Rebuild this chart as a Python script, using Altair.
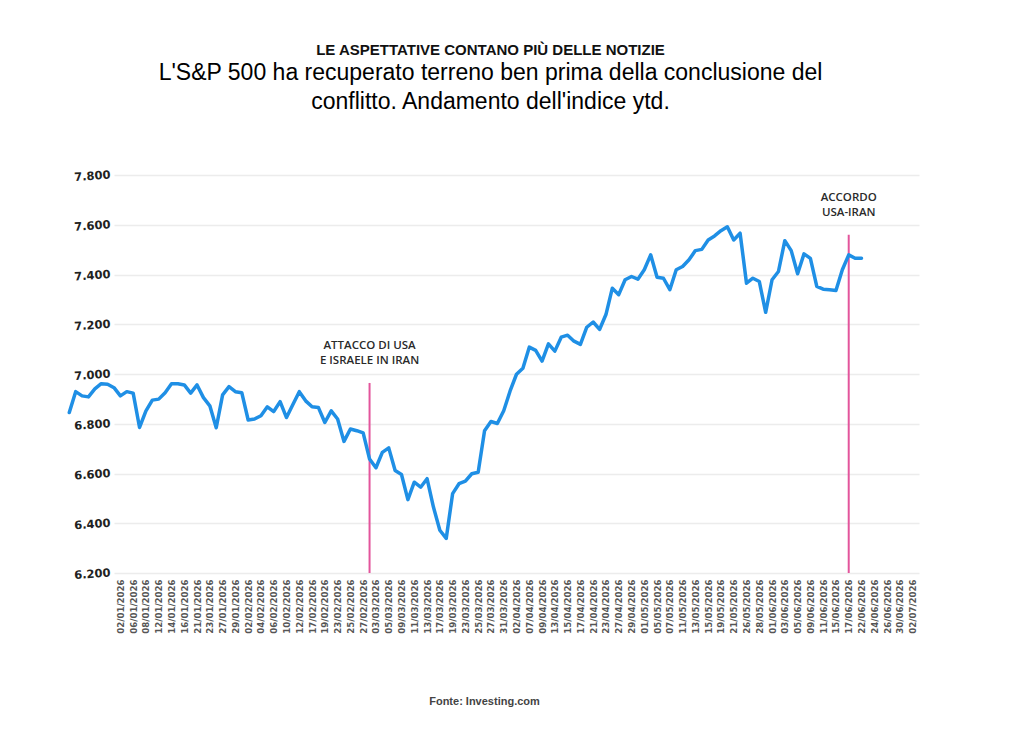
import altair as alt
import pandas as pd

# ---------------- text ----------------
title_text = "LE ASPETTATIVE CONTANO PIÙ DELLE NOTIZIE"
subtitle_lines = [
    "L'S&P 500 ha recuperato terreno ben prima della conclusione del",
    "conflitto. Andamento dell'indice ytd.",
]
source_text = "Fonte: Investing.com"

# ---------------- data ----------------
# x-axis labels (one every second trading day)
date_labels = [
    "02/01/2026", "06/01/2026", "08/01/2026", "12/01/2026", "14/01/2026", "16/01/2026",
    "21/01/2026", "23/01/2026", "27/01/2026", "29/01/2026", "02/02/2026", "04/02/2026",
    "06/02/2026", "10/02/2026", "12/02/2026", "17/02/2026", "19/02/2026", "23/02/2026",
    "25/02/2026", "27/02/2026", "03/03/2026", "05/03/2026", "09/03/2026", "11/03/2026",
    "13/03/2026", "17/03/2026", "19/03/2026", "23/03/2026", "25/03/2026", "27/03/2026",
    "31/03/2026", "02/04/2026", "07/04/2026", "09/04/2026", "13/04/2026", "15/04/2026",
    "17/04/2026", "21/04/2026", "23/04/2026", "27/04/2026", "29/04/2026", "01/05/2026",
    "05/05/2026", "07/05/2026", "11/05/2026", "13/05/2026", "15/05/2026", "19/05/2026",
    "21/05/2026", "26/05/2026", "28/05/2026", "01/06/2026", "03/06/2026", "05/06/2026",
    "09/06/2026", "11/06/2026", "15/06/2026", "17/06/2026", "22/06/2026", "24/06/2026",
    "26/06/2026", "30/06/2026", "02/07/2026",
]

y_ticks = [6200, 6400, 6600, 6800, 7000, 7200, 7400, 7600, 7800]

# S&P 500 daily closes as drawn (125 points)
sp500 = [
    6845, 6929, 6912, 6908, 6940, 6961, 6959, 6945, 6912, 6929,
    6923, 6785, 6852, 6895, 6899, 6925, 6961, 6961, 6956, 6923,
    6956, 6905, 6872, 6784, 6916, 6949, 6929, 6925, 6815, 6819,
    6832, 6868, 6849, 6889, 6825, 6877, 6929, 6892, 6868, 6865,
    6805, 6852, 6819, 6729, 6779, 6772, 6763, 6658, 6623, 6685,
    6703, 6612, 6596, 6495, 6565, 6545, 6579, 6465, 6372, 6339,
    6519, 6559, 6569, 6599, 6605, 6772, 6809, 6801, 6852, 6932,
    6999, 7023, 7108, 7095, 7052, 7121, 7092, 7148, 7156, 7132,
    7119, 7188, 7209, 7179, 7239, 7345, 7319, 7379, 7392, 7381,
    7419, 7479, 7389, 7385, 7339, 7419, 7432, 7459, 7496, 7501,
    7539, 7555, 7576, 7592, 7539, 7566, 7365, 7385, 7372, 7248,
    7379, 7412, 7536, 7496, 7403, 7483, 7465, 7352, 7341, 7339,
    7336, 7419, 7479, 7465, 7465,
]
# the drawn series starts 8 trading-day slots before the first axis label
line_offset = -8

event_pos = [39, 114]
event_top = [6964, 7560]
event_text = ["ATTACCO DI USA\nE ISRAELE IN IRAN", "ACCORDO\nUSA-IRAN"]

# ---------------- tables ----------------
line_df = pd.DataFrame({
    "pos": [i + line_offset for i in range(len(sp500))],
    "value": sp500,
})
ev_df = pd.DataFrame({
    "pos": event_pos,
    "top": event_top,
    "bottom": [y_ticks[0]] * len(event_pos),
    "label": event_text,
})

n_slots = 2 * (len(date_labels) - 1)
x_values = [2 * i for i in range(len(date_labels))]
label_array = "[" + ",".join("'" + d + "'" for d in date_labels) + "]"

x_scale = alt.Scale(domain=[-1, n_slots + 1], nice=False, zero=False)
y_scale = alt.Scale(domain=[y_ticks[0], y_ticks[-1]], nice=False, zero=False)

x_axis = alt.Axis(
    values=x_values,
    tickCount=len(x_values) * 2,
    labelExpr=label_array + "[datum.value / 2]",
    labelAngle=270,
    labelFont="DejaVu Sans",
    labelFontWeight="bold",
    labelFontSize=8.6,
    labelColor="#555555",
    labelPadding=6,
    labelOverlap=False,
    labelBound=False,
    labelFlush=False,
    grid=False,
    ticks=False,
    domain=False,
    title=source_text,
    titleFont="Liberation Sans",
    titleFontWeight="bold",
    titleFontSize=11,
    titleColor="#444444",
    titleX=370,
    titleY=128,
    titleAlign="center",
    titleBaseline="middle",
)
y_axis = alt.Axis(
    values=y_ticks,
    labelExpr="replace(format(datum.value, ',d'), ',', '.')",
    labelFont="DejaVu Sans",
    labelFontWeight="bold",
    labelFontSize=11.5,
    labelColor="#222222",
    labelPadding=4,
    labelAngle=356,
    grid=True,
    gridColor="#ececec",
    gridWidth=1.5,
    ticks=False,
    domain=False,
    title=None,
)

line = alt.Chart(line_df).mark_line(
    color="#1f8fe5", strokeWidth=3.5, strokeJoin="round", strokeCap="round", clip=False
).encode(
    x=alt.X("pos:Q", scale=x_scale, axis=x_axis),
    y=alt.Y("value:Q", scale=y_scale, axis=y_axis),
)

rules = alt.Chart(ev_df).mark_rule(color="#e3559c", strokeWidth=2).encode(
    x=alt.X("pos:Q", scale=x_scale),
    y=alt.Y("bottom:Q", scale=y_scale),
    y2="top:Q",
)

labels = alt.Chart(ev_df).mark_text(
    lineBreak="\n",
    baseline="bottom",
    align="center",
    dy=-32,
    font="Open Sans",
    fontWeight=600,
    fontSize=11.5,
    lineHeight=15,
    color="#2a2a2a",
).encode(
    x=alt.X("pos:Q", scale=x_scale),
    y=alt.Y("top:Q", scale=y_scale),
    text="label:N",
)

chart = alt.layer(rules, line, labels).properties(
    width=805,
    height=398,
    autosize=alt.AutoSizeParams(type="none"),
    padding={"left": 106, "top": 167, "right": 90, "bottom": 140},
    background="white",
    title=alt.TitleParams(
        text=title_text,
        subtitle=subtitle_lines,
        anchor="middle",
        frame="group",
        dx=-26,
        offset=55,
        font="Liberation Sans",
        fontSize=15,
        fontWeight="bold",
        color="#111111",
        subtitleFont="Liberation Sans",
        subtitleFontSize=23,
        subtitleColor="#000000",
        subtitleLineHeight=29,
        subtitlePadding=4,
    ),
).configure_view(stroke=None)

chart.save("out.html", embed_options={"renderer": "svg", "actions": False})
